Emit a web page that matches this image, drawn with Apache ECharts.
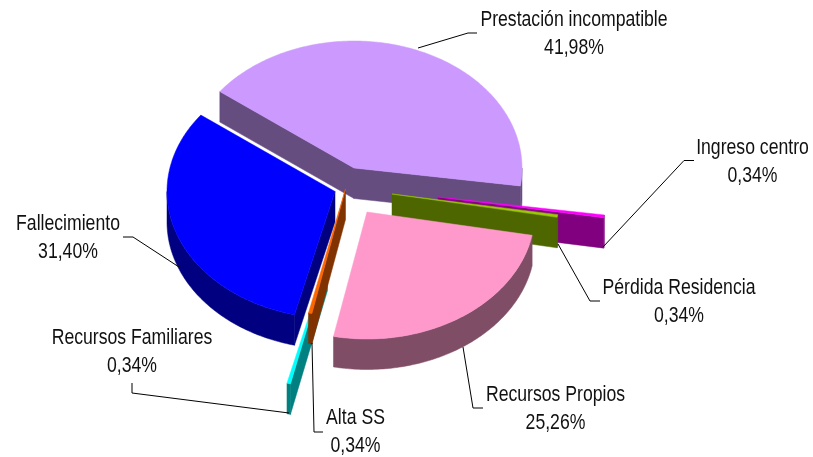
<!DOCTYPE html>
<html>
<head>
<meta charset="utf-8">
<style>html,body{margin:0;background:#fff}#chart{width:813px;height:457px}</style>
<script src="https://cdn.jsdelivr.net/npm/echarts@6/dist/echarts.min.js"></script>
</head>
<body>
<div id="chart"></div>
<script>
// clockwise from the purple slice
const names = ['Prestación incompatible', 'Ingreso centro', 'Pérdida Residencia', 'Recursos Propios', 'Alta SS', 'Recursos Familiares', 'Fallecimiento'];
const values = [41.98, 0.34, 0.34, 25.26, 0.34, 0.34, 31.40];
const colors = ['#CC99FF', '#FF00FF', '#99CC00', '#FF99CC', '#FF6600', '#00FFFF', '#0000FF'];
const sideColors = ['#664D80', '#800080', '#4D6600', '#804D66', '#803300', '#008080', '#000080'];
// how far each slice is pulled out of the pie
const explode = [[10, -22], [94, 7], [48, 4], [23, 22], [1.5, -1], [-16.5, 70], [-9, 1.5]];
const drawOrder = [0, 1, 2, 3, 6, 5, 4];

// label centre / first baseline and leader line for each slice
const labelPos = [[574, 26], [752.5, 154], [679, 294], [555.5, 401], [355.5, 424], [132, 344], [68, 230]];
const leaders = [
    [[418, 48], [468, 33], [477, 33]],
    [[603, 247], [684, 160.5], [694, 160.5]],
    [[558, 244], [590, 301], [600, 301]],
    [[463, 347], [473, 408], [483, 408]],
    [[312, 343], [314, 432], [323, 432]],
    [[132, 383], [132, 393], [289, 413]],
    [[179, 267], [133, 237], [123, 237]]
];

// pie geometry
const cx = 344, cy = 190, rx = 168, ry = 127, depth = 30.5;
const startAngle = -53;

const total = values.reduce((a, b) => a + b, 0);
let acc = startAngle;
const slices = values.map((v, i) => {
    const a0 = acc;
    acc += v / total * 360;
    return {
        a0: a0 * Math.PI / 180,
        a1: acc * Math.PI / 180,
        ox: cx + explode[i][0],
        oy: cy + explode[i][1]
    };
});

function rim(s, t, dy) {
    return [s.ox + rx * Math.sin(t), s.oy - ry * Math.cos(t) + (dy || 0)];
}

function arcPoints(s, from, to, dy) {
    let pts = [];
    let n = Math.max(2, Math.ceil((to - from) * 60));
    for (let k = 0; k <= n; k++) {
        pts.push(rim(s, from + (to - from) * k / n, dy));
    }
    return pts;
}

function poly(points, fill) {
    return {
        type: 'polygon',
        shape: { points: points },
        style: { fill: fill, stroke: fill, lineWidth: 0.5 }
    };
}

function renderSlice(params, api) {
    const i = api.value(0);
    const s = slices[i];
    const apex = [s.ox, s.oy];
    const apexLow = [s.ox, s.oy + depth];
    let kids = [];
    // cut faces, only the ones facing the viewer
    if (Math.sin(s.a0) < 0) {
        kids.push(poly([apex, rim(s, s.a0), rim(s, s.a0, depth), apexLow], sideColors[i]));
    }
    if (Math.sin(s.a1) > 0) {
        kids.push(poly([apex, rim(s, s.a1), rim(s, s.a1, depth), apexLow], sideColors[i]));
    }
    // outer wall, front half of the ellipse only
    const from = Math.max(s.a0, Math.PI / 2), to = Math.min(s.a1, Math.PI * 1.5);
    if (to > from) {
        const top = arcPoints(s, from, to, 0);
        const low = arcPoints(s, from, to, depth).reverse();
        kids.push(poly(top.concat(low), sideColors[i]));
    }
    kids.push(poly([apex].concat(arcPoints(s, s.a0, s.a1, 0)), colors[i]));
    return { type: 'group', children: kids };
}

function labelText(x, y, text) {
    return {
        type: 'text',
        // narrow face: squeeze horizontally around the label centre
        x: x, y: y, scaleX: 0.82,
        style: {
            x: 0, y: 0,
            text: text,
            fill: '#111',
            font: '21.5px "Liberation Sans", Arial, sans-serif',
            align: 'center',
            verticalAlign: 'bottom'
        }
    };
}

function renderLabel(params, api) {
    const i = api.value(0);
    const p = labelPos[i];
    return {
        type: 'group',
        children: [
            {
                type: 'polyline',
                shape: { points: leaders[i] },
                style: { fill: 'none', stroke: '#000', lineWidth: 1 }
            },
            labelText(p[0], p[1] + 5, names[i]),
            labelText(p[0], p[1] + 33, values[i].toFixed(2).replace('.', ',') + '%')
        ]
    };
}

const chart = echarts.init(document.getElementById('chart'), null, { renderer: 'canvas' });
chart.setOption({
    animation: false,
    series: [
        {
            type: 'custom',
            coordinateSystem: 'none',
            silent: true,
            renderItem: renderSlice,
            data: drawOrder.map(i => [i])
        },
        {
            type: 'custom',
            coordinateSystem: 'none',
            silent: true,
            z: 3,
            renderItem: renderLabel,
            data: names.map((n, i) => [i])
        }
    ]
});
</script>
</body>
</html>
